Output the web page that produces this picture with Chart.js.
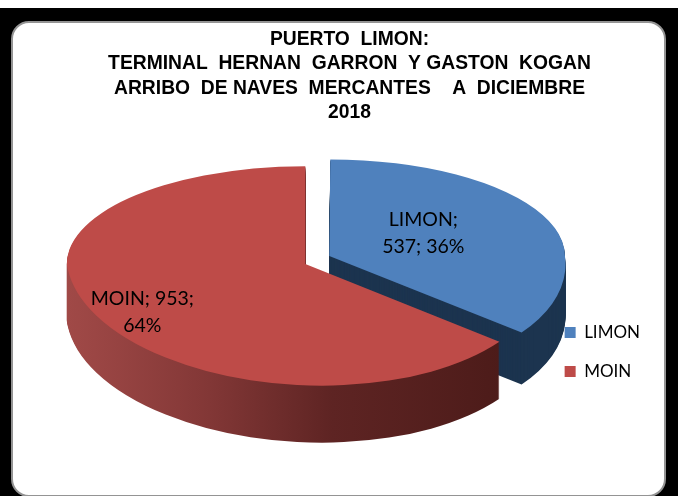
<!DOCTYPE html>
<html>
<head>
<meta charset="utf-8">
<style>
  html, body { margin: 0; padding: 0; background: #fff; }
  #frame { position: absolute; left: 0; top: 8px; width: 678px; height: 488px; background: #000; }
  #card { position: absolute; left: 11px; top: 21px; width: 651px; height: 472px; background: #fff; border: 2px solid #949494; border-radius: 18px; }
  #wrap { position: absolute; left: 0; top: 0; width: 678px; height: 496px; }
</style>
<script src="https://cdn.jsdelivr.net/npm/chart.js@4/dist/chart.umd.min.js"></script>
</head>
<body>
<div id="frame"></div>
<div id="card"></div>
<div id="wrap"><canvas id="pieChart" width="678" height="496"></canvas></div>
<script>
// Chart data
const categories = ['LIMON', 'MOIN'];
const arrivals = [537, 953];
const titleLines = [
    'PUERTO  LIMON:',
    'TERMINAL  HERNAN  GARRON  Y GASTON  KOGAN',
    'ARRIBO  DE NAVES  MERCANTES    A  DICIEMBRE',
    '2018'
];

// Look of the fake 3D pie
const topColors = ['#4F81BD', '#BE4B48'];
const explode = [106, 0];
const radiusTrim = [9, 0];
const labelBreak = [1, 2];
const labelNudge = [[-14, -5], [-55, 23]];
const upperSquash = 0.41;
const lowerSquash = 0.51;
const lowerShear = 0.07;
const liftFactor = 0.7;
const wallDepth = [52, 57];
const titleShift = -9.5;

function wallFill(ctx, index) {
    if (index === 0) return '#1C344F';
    const g = ctx.createLinearGradient(66, 0, 496, 0);
    g.addColorStop(0, '#A04947');
    g.addColorStop(0.3, '#823736');
    g.addColorStop(0.58, '#5E2423');
    g.addColorStop(1, '#4C1B19');
    return g;
}

// Arc elements only move a quarter of their offset option when drawn
function sliceShift(el) {
    const mid = (el.startAngle + el.endAngle) / 2;
    const d = el.options.offset / 4;
    return { x: Math.cos(mid) * d, y: Math.sin(mid) * d };
}

// Draws one arc element squashed into an ellipse, upper and lower half separately
function drawFlat(ctx, el, index, color, dy) {
    const o = el.options;
    const rawY = el.y + sliceShift(el).y;
    const flatY = Math.round(el.y + sliceShift(el).y * liftFactor + dy);
    const ghost = Object.create(el);
    ghost.outerRadius = el.outerRadius - radiusTrim[index];
    ghost.options = {
        backgroundColor: color, borderColor: color, borderWidth: 0, borderAlign: 'center',
        borderJoinStyle: 'round', borderRadius: 0, borderDash: [], borderDashOffset: 0,
        offset: o.offset, spacing: 0, angle: undefined, circular: true, selfJoin: false
    };

    ctx.save();
    ctx.beginPath();
    ctx.rect(0, 0, 678, flatY);
    ctx.clip();
    ctx.transform(1, 0, 0, upperSquash, 0, flatY - upperSquash * rawY);
    ghost.draw(ctx);
    ctx.restore();

    ctx.save();
    ctx.beginPath();
    ctx.rect(0, flatY, 678, 496 - flatY);
    ctx.clip();
    ctx.transform(1, 0, lowerShear, lowerSquash, -lowerShear * rawY, flatY - lowerSquash * rawY);
    ghost.draw(ctx);
    ctx.restore();
}

const pie3d = {
    id: 'pie3d',
    afterLayout(chart) {
        chart.titleBlock.left += titleShift;
        chart.titleBlock.right += titleShift;
    },
    beforeDatasetsDraw(chart) {
        const ctx = chart.ctx;
        chart.getDatasetMeta(0).data.forEach((el, i) => {
            const wall = wallFill(ctx, i);
            for (let d = wallDepth[i]; d > 0; d--) drawFlat(ctx, el, i, wall, d);
            drawFlat(ctx, el, i, topColors[i], 0);
        });
        return false;
    },
    // afterDatasetsDraw is skipped once the hook above cancels the default draw
    afterDraw(chart) {
        const ctx = chart.ctx;
        const total = arrivals.reduce((a, b) => a + b, 0);
        ctx.save();
        ctx.font = '19.5px Lato';
        ctx.fillStyle = '#000';
        ctx.textAlign = 'center';
        ctx.textBaseline = 'middle';
        chart.getDatasetMeta(0).data.forEach((el, i) => {
            const words = [categories[i] + ';', arrivals[i] + ';', Math.round(arrivals[i] / total * 100) + '%'];
            const lines = [words.slice(0, labelBreak[i]).join(' '), words.slice(labelBreak[i]).join(' ')];
            const mid = (el.startAngle + el.endAngle) / 2;
            const r = el.outerRadius / 2 + el.options.offset / 4;
            const cx = el.x + Math.cos(mid) * r + labelNudge[i][0];
            const dy = Math.sin(mid) * r;
            const cy = el.y + dy * (dy < 0 ? upperSquash : lowerSquash) + labelNudge[i][1];
            ctx.fillText(lines[0], cx, cy - 13.5);
            ctx.fillText(lines[1], cx, cy + 13.5);
        });
        ctx.restore();
    }
};

new Chart(document.getElementById('pieChart'), {
    type: 'pie',
    data: {
        labels: categories,
        datasets: [{
            data: arrivals,
            backgroundColor: topColors,
            borderWidth: 0,
            offset: explode
        }]
    },
    options: {
        responsive: false,
        animation: false,
        radius: 238.5,
        layout: { padding: { left: 68, right: 28, top: 27, bottom: 94 } },
        plugins: {
            tooltip: { enabled: false },
            title: {
                display: true,
                text: titleLines,
                color: '#000',
                font: { family: 'Liberation Sans', size: 19.3, weight: 'bold', lineHeight: 1.27 },
                padding: { top: 0, bottom: 0 }
            },
            legend: {
                position: 'right',
                align: 'end',
                labels: {
                    color: '#000',
                    font: { family: 'Lato', size: 17 },
                    boxWidth: 11,
                    boxHeight: 11,
                    padding: 22
                }
            }
        }
    },
    plugins: [pie3d]
});
</script>
</body>
</html>
